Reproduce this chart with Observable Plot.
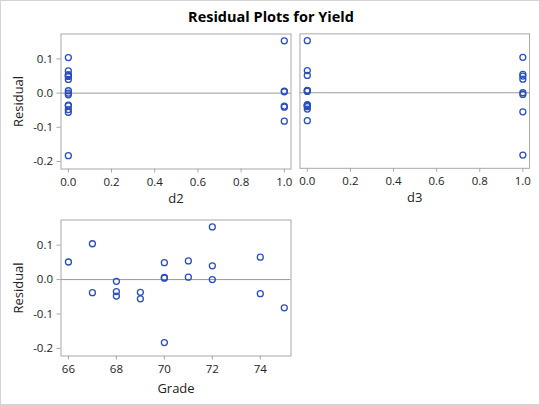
<!DOCTYPE html>
<html>
<head>
<meta charset="utf-8">
<script src="https://cdn.jsdelivr.net/npm/d3@7"></script>
<script src="https://cdn.jsdelivr.net/npm/@observablehq/plot@0.6"></script>
<style>
  body { margin: 0; background: #fff; }
  #wrap { position: relative; width: 540px; height: 405px; box-sizing: border-box;
          border: 1px solid #d4d4d4; font-family: "Open Sans", sans-serif; overflow: hidden; }
  #title { position: absolute; top: 6px; left: 0; width: 540px; text-align: center;
           font-size: 14.5px; font-weight: bold; color: #000; }
  .panel { position: absolute; }
</style>
</head>
<body>
<div id="wrap">
  <div id="title">Residual Plots for Yield</div>
  <div id="p1" class="panel" style="left:-1px; top:-1px"></div>
  <div id="p2" class="panel" style="left:289px; top:-1px"></div>
  <div id="p3" class="panel" style="left:-1px; top:199px"></div>
</div>
<script>
const grade    = [66, 67, 67, 68, 68, 68, 69, 69, 70, 70, 70, 70, 71, 71, 72, 72, 72, 74, 74, 75];
const residual = [0.051, 0.104, -0.038, -0.005, -0.035, -0.048, -0.037, -0.056, 0.049, 0.006,
                  0.004, -0.183, 0.054, 0.007, 0.153, 0.040, 0.000, 0.065, -0.041, -0.082];
const dummy2   = [0, 0, 1, 0, 0, 0, 0, 0, 0, 1, 1, 0, 0, 0, 1, 0, 0, 0, 1, 1];
const dummy3   = [0, 1, 0, 1, 0, 0, 0, 1, 1, 0, 0, 1, 1, 0, 0, 1, 1, 0, 0, 0];
const yTicks   = [-0.2, -0.1, 0.0, 0.1];
const dTicks   = [0, 0.2, 0.4, 0.6, 0.8, 1.0];
const gTicks   = [66, 68, 70, 72, 74];

const data = grade.map((g, i) => ({grade: g, residual: residual[i], d2: dummy2[i], d3: dummy3[i]}));

const blue = "#2a4fbd";
const frameColor = "#a8a8a8";
const fmt = d3.format(".1f");
const minus = d => fmt(d).replace("−", "-");

function panel(xField, xDomain, xTicks, xFmt, opts) {
  return Plot.plot({
    width: opts.width,
    height: opts.height,
    marginLeft: opts.marginLeft,
    marginRight: opts.marginRight,
    marginTop: opts.marginTop,
    marginBottom: opts.marginBottom,
    style: {fontFamily: "Open Sans, sans-serif", fontSize: "11.5px", color: "#222",
            background: "transparent", overflow: "visible"},
    x: {domain: xDomain, ticks: xTicks, tickFormat: xFmt, label: null},
    y: {domain: [-0.222, 0.173], ticks: yTicks, tickFormat: minus, label: null, axis: null},
    marks: [
      Plot.frame({stroke: frameColor}),
      Plot.ruleY([0], {stroke: "#999", strokeWidth: 1}),
      Plot.axisX({ticks: xTicks, tickFormat: xFmt, tickSize: 4, tickPadding: 5, stroke: frameColor, label: null}),
      opts.yAxis
        ? Plot.axisY({ticks: yTicks, tickFormat: minus, tickSize: 4, tickPadding: 4, stroke: frameColor, label: null})
        : null,
      Plot.dot(data, {x: xField, y: "residual", r: 3, stroke: blue, strokeWidth: 1.3, fill: "none"}),
      Plot.text([opts.xLabel], {frameAnchor: "bottom", dy: opts.xLabelDy, fontSize: 13, fill: "#222"}),
      opts.yAxis
        ? Plot.text(["Residual"], {frameAnchor: "left", textAnchor: "middle", dx: -42.5, rotate: -90,
                                   fontSize: 13, fill: "#222"})
        : null
    ]
  });
}

const topOpts = {width: 295, height: 215, marginTop: 33.5, marginBottom: 46.5, xLabelDy: 34};
d3.select("#p1").append(() => panel("d2", [-0.034, 1.031], dTicks, fmt,
  {...topOpts, marginLeft: 60.5, marginRight: 4.5, yAxis: true, xLabel: "d2"}));
d3.select("#p2").append(() => panel("d3", [-0.034, 1.031], dTicks, fmt,
  {...topOpts, width: 250, marginLeft: 9.5, marginRight: 10, yAxis: false, xLabel: "d3"}));
d3.select("#p3").append(() => panel("grade", [65.69, 75.28], gTicks, d => String(d),
  {width: 295, height: 206, marginTop: 19.5, marginBottom: 50.5, marginLeft: 60.5, marginRight: 4.5,
   yAxis: true, xLabel: "Grade", xLabelDy: 37}));
</script>
</body>
</html>
